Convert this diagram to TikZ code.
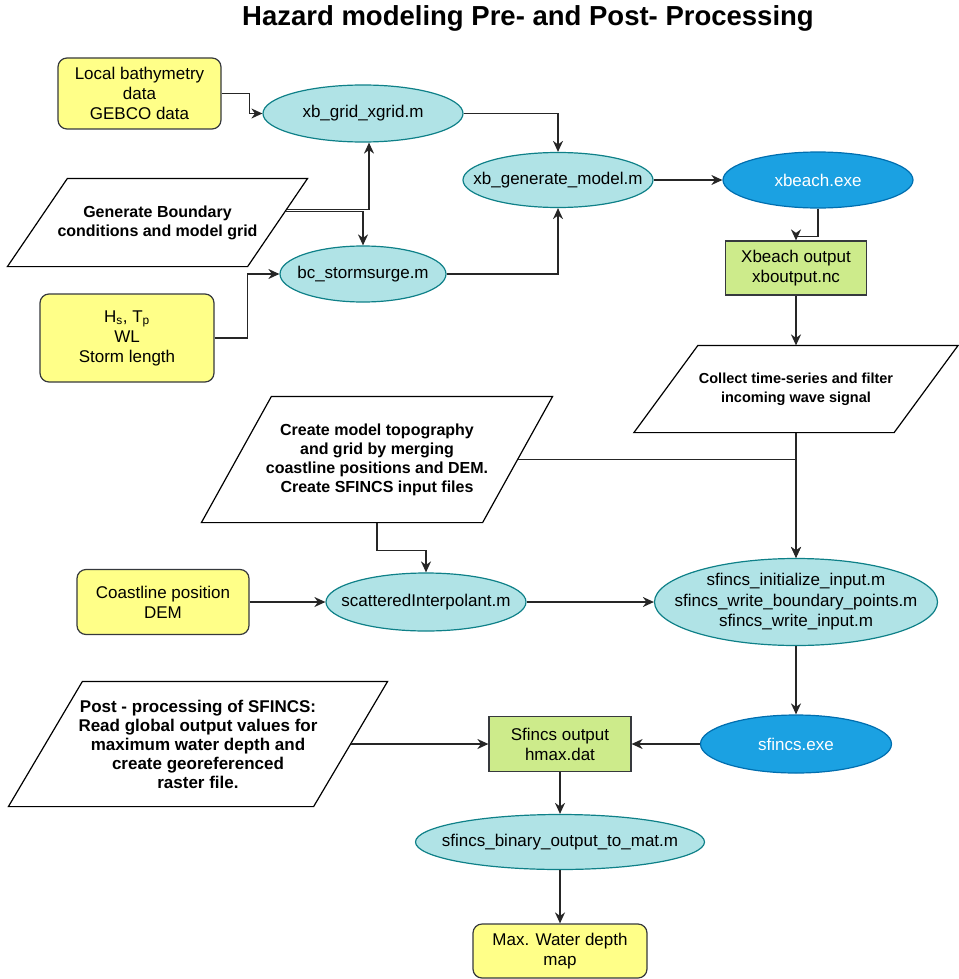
\documentclass[tikz,border=0pt]{standalone}
\usepackage{fontspec}
\setmainfont{Liberation Sans}
\usetikzlibrary{shapes.geometric,arrows.meta}

\definecolor{procfill}{HTML}{B0E3E6}
\definecolor{procline}{HTML}{0E8088}
\definecolor{exefill}{HTML}{1BA1E2}
\definecolor{exeline}{HTML}{006EAF}
\definecolor{datafill}{HTML}{FFFF88}
\definecolor{outfill}{HTML}{CDEB8B}
\definecolor{boxline}{HTML}{36393D}
\definecolor{wire}{HTML}{262626}

\tikzset{
  base/.style={align=center, inner sep=0pt, line width=1.2pt, font=\fontsize{17}{20}\selectfont},
  lbl/.style={align=center, inner sep=0pt, font=\fontsize{17}{20.5}\selectfont},
  % ellipses are sized by minimum width/height only, the text sits in a centred label
  proc/.style={base, ellipse, draw=procline, fill=procfill, label={[lbl]center:{#1}}},
  exe/.style={base, ellipse, draw=exeline, fill=exefill, label={[lbl,text=white]center:{#1}}},
  data/.style={base, rectangle, rounded corners=9pt, draw=boxline, fill=datafill},
  result/.style={base, rectangle, draw=boxline, fill=outfill},
  % parallelogram text block: width is measured at mid height
  io/.style={base, rectangle, font=\fontsize{16}{19}\selectfont\bfseries},
  arr/.style={-{Stealth[length=11pt,width=10pt,inset=3.5pt]}, line width=1.5pt, draw=wire},
}

% slanted outline round an io node, #2 = half of the slant
\newcommand\slantbox[2]{%
  \draw[line width=1.2pt] ([xshift=#2]#1.north west) -- ([xshift=#2]#1.north east)
    -- ([xshift=-#2]#1.south east) -- ([xshift=-#2]#1.south west) -- cycle;}

\begin{document}
\begin{tikzpicture}[x=1pt,y=-1pt]
  \useasboundingbox (0,0) rectangle (958,979);

  % Title
  \node[font=\fontsize{27.5}{30}\selectfont\bfseries] (title) at (528,18) {Hazard modeling Pre- and Post- Processing};

  % XBeach part (pre-processing)
  \node[data, minimum width=163, minimum height=71] (bathy) at (139.5,93.5) {Local bathymetry\\data\\GEBCO data};
  \node[proc={xb\_grid\_xgrid.m}, minimum width=200, minimum height=57] (xbgrid) at (363,113.5) {};
  \node[io, minimum width=239, minimum height=87] (gen) at (157.5,222.5) {Generate Boundary\\conditions and model grid};
  \slantbox{gen}{30}
  \node[proc={bc\_stormsurge.m}, minimum width=166, minimum height=56] (bcstorm) at (363,274) {};
  \node[data, minimum width=174, minimum height=88] (hs) at (127,338) {H\textsubscript{s}, T\textsubscript{p}\\WL\\Storm length};
  \node[proc={xb\_generate\_model.m}, minimum width=190, minimum height=55] (xbgen) at (558,180) {};
  \node[exe={xbeach.exe}, minimum width=190, minimum height=56] (xbeach) at (818,180) {};
  \node[result, minimum width=141, minimum height=54] (xbout) at (796,268) {Xbeach output\\xboutput.nc};
  \node[io, minimum width=259, minimum height=86, font=\fontsize{14.5}{19}\selectfont\bfseries]
        (collect) at (796,389) {Collect time-series and filter\\incoming wave signal};
  \slantbox{collect}{32}

  % SFINCS part
  \node[io, minimum width=280, minimum height=125] (create) at (377,459.5)
        {Create model topography\\and grid by merging\\coastline positions and DEM.\\Create SFINCS input files};
  \slantbox{create}{35}
  \node[data, minimum width=172, minimum height=65] (coast) at (163,602) {Coastline position\\DEM};
  \node[proc={scatteredInterpolant.m}, minimum width=200, minimum height=58] (scat) at (426,602) {};
  \node[proc={sfincs\_initialize\_input.m\\sfincs\_write\_boundary\_points.m\\sfincs\_write\_input.m},
        minimum width=283, minimum height=87] (sfinit) at (796,602) {};
  \node[exe={sfincs.exe}, minimum width=191, minimum height=58] (sfexe) at (796,744) {};

  % Post-processing
  \node[result, minimum width=142, minimum height=55] (sfout) at (560,744) {Sfincs output\\hmax.dat};
  \node[io, minimum width=304, minimum height=124, font=\fontsize{17}{19}\selectfont\bfseries] (post) at (198,744)
        {Post - processing of SFINCS:\\Read global output values for\\maximum water depth and\\create georeferenced\\raster file.};
  \slantbox{post}{37}
  \node[proc={sfincs\_binary\_output\_to\_mat.m}, minimum width=289, minimum height=55] (binmat) at (560,842) {};
  \node[data, minimum width=174, minimum height=54] (maxw) at (560,951) {Max. Water depth\\map};

  % Connectors
  \draw[arr] (bathy.east) -- ++(28,0) |- (xbgrid.west);
  \draw[arr] (xbgrid.east) -| (xbgen.north);
  \draw[arr] ([xshift=9,yshift=13]gen.east) -| ([xshift=6]xbgrid.south);
  \draw[arr] ([xshift=8,yshift=11]gen.east) -| (bcstorm.north);
  \draw[arr] (hs.east) -- ++(33,0) |- (bcstorm.west);
  \draw[arr] (bcstorm.east) -| (xbgen.south);
  \draw[arr] (xbgen.east) -- (xbeach.west);
  \draw[arr] (xbeach.south) -- ++(0,28) -| (xbout.north);
  \draw[arr] (xbout.south) -- (collect.north);
  \draw[arr] (collect.south) -- (sfinit.north);
  \draw[arr] (create.east) -| (sfinit.north);
  \draw[arr] (create.south) -- ++(0,28) -| (scat.north);
  \draw[arr] (coast.east) -- (scat.west);
  \draw[arr] (scat.east) -- (sfinit.west);
  \draw[arr] (sfinit.south) -- (sfexe.north);
  \draw[arr] (sfexe.west) -- (sfout.east);
  \draw[arr] (post.east) -- (sfout.west);
  \draw[arr] (sfout.south) -- (binmat.north);
  \draw[arr] (binmat.south) -- (maxw.north);
\end{tikzpicture}
\end{document}
